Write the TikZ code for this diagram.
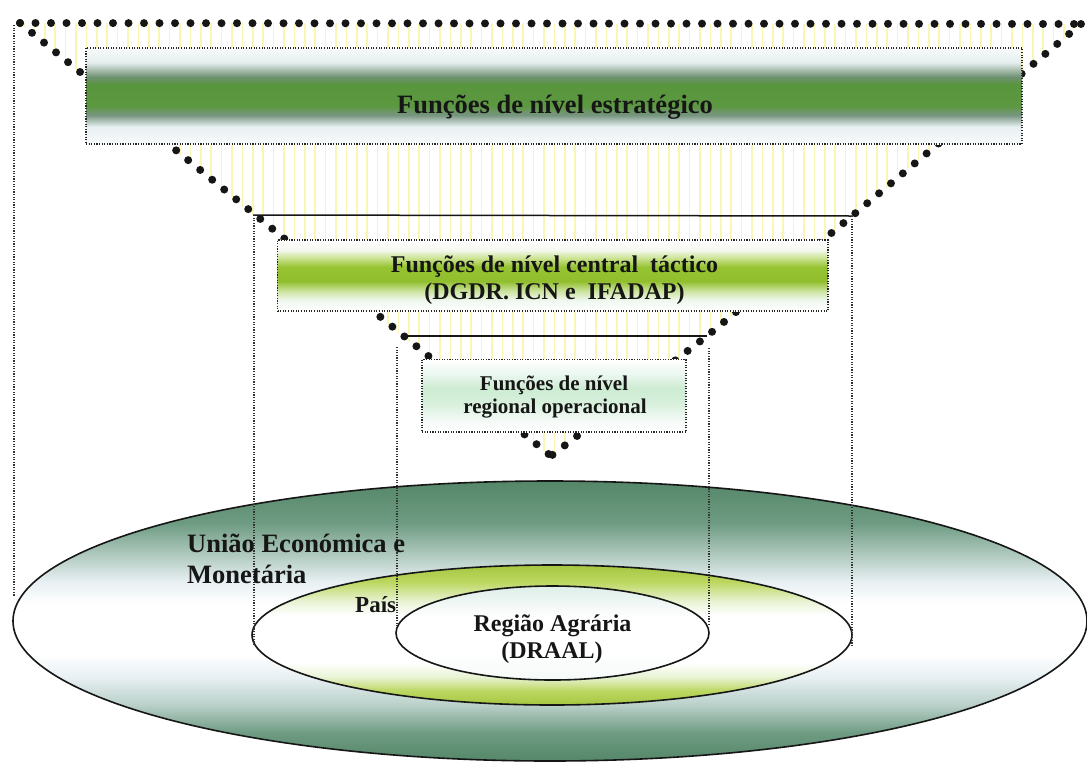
\documentclass[tikz,border=0pt]{standalone}
\usepackage{fontspec}
\setmainfont{Liberation Serif}
\usetikzlibrary{shapes.geometric}

% palette
\definecolor{hatchyellow}{RGB}{250,247,180}
\definecolor{inkdark}{RGB}{22,22,22}
\definecolor{boxwhite}{RGB}{248,250,250}
\definecolor{sA}{RGB}{232,240,242}
\definecolor{sB}{RGB}{120,150,128}
\definecolor{sC}{RGB}{92,152,64}
\definecolor{sD}{RGB}{88,150,62}
\definecolor{sE}{RGB}{112,145,115}
\definecolor{sF}{RGB}{230,238,238}
\definecolor{lA}{RGB}{240,248,240}
\definecolor{lB}{RGB}{205,228,160}
\definecolor{lC}{RGB}{145,190,45}
\definecolor{lD}{RGB}{150,195,50}
\definecolor{lE}{RGB}{205,228,150}
\definecolor{lF}{RGB}{245,248,240}
\definecolor{mA}{RGB}{245,250,248}
\definecolor{mB}{RGB}{215,240,220}
\definecolor{mC}{RGB}{205,235,210}
\definecolor{mD}{RGB}{235,247,240}
\definecolor{uDark}{RGB}{85,135,105}
\definecolor{uMid}{RGB}{110,155,130}
\definecolor{uLight}{RGB}{185,208,200}
\definecolor{uPale}{RGB}{232,240,243}
\definecolor{pDark}{RGB}{165,198,65}
\definecolor{pMid}{RGB}{188,215,95}
\definecolor{pPale}{RGB}{232,243,212}
\definecolor{rTop}{RGB}{222,238,232}

% vertical shadings: 25bp = bottom edge, 75bp = top edge of the shaded shape
\pgfdeclareverticalshading{stratshade}{100bp}{color(0bp)=(boxwhite); color(25bp)=(boxwhite);
  color(34bp)=(sA); color(40bp)=(sB); color(45bp)=(sC); color(56bp)=(sD);
  color(60bp)=(sE); color(67.5bp)=(sF); color(75bp)=(boxwhite); color(100bp)=(boxwhite)}
\pgfdeclareverticalshading{tactshade}{100bp}{color(0bp)=(white); color(25bp)=(white);
  color(32.5bp)=(lA); color(39bp)=(lB); color(46bp)=(lC); color(56bp)=(lD);
  color(62.5bp)=(lE); color(68bp)=(lF); color(75bp)=(white); color(100bp)=(white)}
\pgfdeclareverticalshading{operashade}{100bp}{color(0bp)=(white); color(25bp)=(white);
  color(32.5bp)=(mA); color(45bp)=(mB); color(55bp)=(mC); color(65bp)=(mD);
  color(75bp)=(white); color(100bp)=(white)}
\pgfdeclareverticalshading{unionshade}{100bp}{color(0bp)=(uDark); color(25bp)=(uDark);
  color(30bp)=(uMid); color(35bp)=(uLight); color(40bp)=(uPale); color(44bp)=(white);
  color(53bp)=(white); color(57bp)=(uPale); color(61bp)=(uLight); color(67.5bp)=(uMid);
  color(75bp)=(uDark); color(100bp)=(uDark)}
\pgfdeclareverticalshading{paisshade}{100bp}{color(0bp)=(pDark); color(25bp)=(pDark);
  color(30bp)=(pMid); color(35bp)=(pPale); color(40bp)=(white); color(57bp)=(white);
  color(62bp)=(pPale); color(69bp)=(pMid); color(75bp)=(pDark); color(100bp)=(pDark)}
\pgfdeclareverticalshading{regshade}{100bp}{color(0bp)=(mA); color(25bp)=(mA);
  color(40bp)=(white); color(58bp)=(white); color(75bp)=(rTop); color(100bp)=(rTop)}

\begin{document}
\begin{tikzpicture}[x=1pt,y=-1pt,
  bigdots/.style={draw=inkdark, line width=8pt, line cap=round, dash pattern=on 0pt off 15.5pt},
  hatchline/.style={draw=hatchyellow, line width=1.5pt},
  ruleline/.style={draw=inkdark, line width=1.5pt},
  dotbox/.style={rectangle, draw=black!85, line width=1.1pt, dash pattern=on 1.1pt off 1.5pt,
    inner sep=0pt, shade},
  guide/.style={draw=black!80, line width=1.1pt, dash pattern=on 1.1pt off 1.5pt},
  rim/.style={ellipse, draw=inkdark, line width=1.6pt, inner sep=0pt, shade},
  lbl/.style={inner sep=0pt, text=inkdark, font=\bfseries\fontsize{24}{27}\selectfont},
  lblbig/.style={lbl, font=\bfseries\fontsize{26.5}{30}\selectfont},
  lblsmall/.style={lbl, font=\bfseries\fontsize{21}{23}\selectfont},
  lblpais/.style={lbl, font=\bfseries\fontsize{23}{26}\selectfont}]

\useasboundingbox (0,0) rectangle (1087,761);
\fill[white] (0,0) rectangle (1087,761);

% corners of the inverted pyramid
\coordinate (tl) at (20,23);
\coordinate (tr) at (1081,24);
\coordinate (l2) at (253,215);
\coordinate (r2) at (852,216);
\coordinate (l3) at (402,336);
\coordinate (r3) at (707,336);
\coordinate (apex) at (551,456);

% yellow vertical hatching inside the pyramid
\begin{scope}
  \clip (tl) -- (tr) -- (r2) -- (r3) -- (apex) -- (l3) -- (l2) -- cycle;
  \foreach \i in {0,...,103}
    \draw[hatchline] (24+10.4*\i,15) -- (24+10.4*\i,470);
\end{scope}

% dotted outline of the pyramid
\draw[bigdots] (tl) -- (tr);
\draw[bigdots] (tl) -- (apex);
\draw[bigdots] (tr) -- (r2) -- (r3) -- (apex);

% level separators
\draw[ruleline] (l2) -- (r2);
\draw[ruleline] (l3) -- (r3);

% function boxes
\node[dotbox, shading=stratshade, minimum width=936pt, minimum height=96pt] (strat) at (554,96) {};
\node[dotbox, shading=tactshade, minimum width=550.5pt, minimum height=71pt] (tact) at (552.75,275.5) {};
\node[dotbox, shading=operashade, minimum width=264pt, minimum height=72.5pt] (opera) at (554,395.75) {};

% nested territorial levels
\node[rim, shading=unionshade, minimum width=1074pt, minimum height=280pt] (uem) at (550,621) {};
\node[rim, shading=paisshade, minimum width=600pt, minimum height=140pt] (pais) at (552,635) {};
\node[rim, shading=regshade, minimum width=313pt, minimum height=94pt] (reg) at (552.5,633) {};

% projection guides from the pyramid down to the territories
\coordinate (g0a) at (14,25);   \coordinate (g0b) at (14,597);
\coordinate (g1a) at (254,215); \coordinate (g1b) at (254,645);
\coordinate (g2a) at (397,347); \coordinate (g2b) at (397,627);
\coordinate (g3a) at (709,348); \coordinate (g3b) at (709,626);
\coordinate (g4a) at (852,216); \coordinate (g4b) at (852,647);
\draw[guide] (g0a) -- (g0b);
\draw[guide] (g1a) -- (g1b);
\draw[guide] (g2a) -- (g2b);
\draw[guide] (g3a) -- (g3b);
\draw[guide] (g4a) -- (g4b);

% labels
\node[lblbig, anchor=base] (stratA) at (555,113) {Funções de nível estratégico};
\node[lbl, anchor=base] (tactA) at (554.5,272) {Funções de nível central\ \ táctico};
\node[lbl, anchor=base] (tactB) at (554.5,299) {(DGDR. ICN e\ \ IFADAP)};
\node[lblsmall, anchor=base] (operaA) at (554,390) {Funções de nível};
\node[lblsmall, anchor=base] (operaB) at (555,413) {regional operacional};
\node[lblbig, anchor=base west] (uemA) at (187,552) {União Económica e};
\node[lblbig, anchor=base west] (uemB) at (187,583) {Monetária};
\node[lblpais, anchor=base west] (paisA) at (355,612) {País};
\node[lbl, anchor=base] (regA) at (552.5,631) {Região Agrária};
\node[lbl, anchor=base] (regB) at (552,658) {(DRAAL)};
\end{tikzpicture}
\end{document}
